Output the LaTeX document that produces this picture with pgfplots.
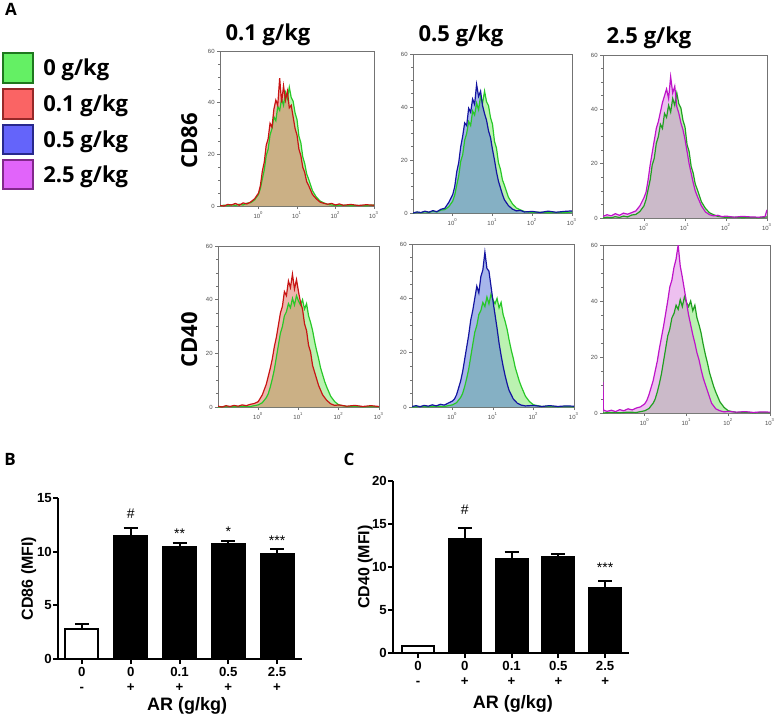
\documentclass[border=0pt]{standalone}
\usepackage{fontspec}
\setmainfont{Liberation Sans}
\newfontfamily\osans{Open Sans}
\usepackage{pgfplots}
\pgfplotsset{compat=1.18}
\usepackage{pgfplotstable}

\definecolor{gline}{RGB}{40,200,40}
\definecolor{gfill}{RGB}{120,230,100}
\definecolor{rline}{RGB}{200,20,20}
\definecolor{rfill}{RGB}{220,110,90}
\definecolor{bline}{RGB}{20,20,160}
\definecolor{bfill}{RGB}{80,110,215}
\definecolor{mline}{RGB}{190,20,200}
\definecolor{mfill}{RGB}{220,130,225}

% CD86 histograms (x = log10 intensity, y = count)
\pgfplotstableread{
x y
-1.00 0.0
-0.90 0.3
-0.80 0.1
-0.70 0.5
-0.60 0.2
-0.50 0.7
-0.40 0.4
-0.30 1.1
-0.20 1.3
-0.10 2.4
0.00 4.5
0.05 6.8
0.10 10.5
0.15 14.0
0.20 19.5
0.25 22.0
0.30 27.5
0.35 30.0
0.40 34.5
0.45 33.0
0.50 38.5
0.55 37.0
0.60 41.5
0.65 39.0
0.70 44.0
0.75 41.5
0.80 46.0
0.85 42.0
0.90 40.5
0.95 36.0
1.00 33.5
1.05 27.0
1.10 24.5
1.15 19.0
1.20 16.5
1.25 12.5
1.30 10.5
1.40 6.0
1.50 3.5
1.60 1.9
1.70 1.2
1.80 0.6
1.90 0.4
2.00 0.2
2.20 0.3
2.40 0.1
2.60 0.2
2.80 0.1
3.00 0.4
}\gA
\pgfplotstableread{
x y
-1.00 0.2
-0.90 0.0
-0.80 0.6
-0.70 0.4
-0.60 1.0
-0.50 0.3
-0.40 1.2
-0.30 0.8
-0.20 1.6
-0.10 2.8
0.00 5.0
0.05 8.0
0.10 13.5
0.15 17.0
0.20 23.5
0.25 26.0
0.30 32.0
0.35 30.5
0.40 37.5
0.45 41.0
0.50 39.0
0.55 49.5
0.60 40.0
0.65 46.5
0.70 41.0
0.75 44.5
0.80 38.0
0.85 39.0
0.90 34.5
0.95 30.0
1.00 27.5
1.05 22.0
1.10 19.5
1.15 15.0
1.20 13.0
1.25 9.5
1.30 8.0
1.40 4.5
1.50 2.8
1.60 1.5
1.70 1.0
1.80 0.7
1.90 1.0
2.00 0.4
2.10 0.8
2.20 0.3
2.40 0.6
2.60 0.2
2.80 0.5
3.00 0.3
}\rA
\pgfplotstableread{
x y
-1.00 0.0
-0.90 0.4
-0.80 0.2
-0.70 0.7
-0.60 0.3
-0.50 0.9
-0.40 0.5
-0.30 1.4
-0.20 1.8
-0.10 4.0
0.00 7.0
0.05 10.0
0.10 15.5
0.15 19.0
0.20 25.0
0.25 29.0
0.30 34.0
0.35 33.0
0.40 39.5
0.45 38.0
0.50 43.0
0.55 41.0
0.60 48.5
0.65 44.0
0.70 46.0
0.75 40.5
0.80 37.5
0.85 35.0
0.90 31.0
0.95 28.5
1.00 24.0
1.05 20.0
1.10 15.5
1.15 12.0
1.20 9.5
1.25 7.0
1.30 5.0
1.40 2.8
1.50 1.5
1.60 0.8
1.70 1.0
1.80 0.4
2.00 0.6
2.20 0.2
2.40 0.7
2.60 0.3
2.80 0.6
3.00 0.8
}\bA
\pgfplotstableread{
x y
-1.00 0.6
-0.90 1.2
-0.80 0.8
-0.70 1.6
-0.60 1.0
-0.50 1.8
-0.40 1.4
-0.30 2.0
-0.20 2.6
-0.10 4.5
0.00 7.5
0.05 9.5
0.10 14.0
0.15 19.5
0.20 24.0
0.25 28.5
0.30 33.0
0.35 35.5
0.40 39.0
0.45 42.5
0.50 45.0
0.55 47.5
0.60 44.0
0.65 52.0
0.70 46.0
0.75 48.5
0.80 41.0
0.85 38.5
0.90 35.0
0.95 32.5
1.00 29.0
1.05 24.5
1.10 20.0
1.15 16.5
1.20 13.0
1.25 10.0
1.30 8.0
1.40 4.5
1.50 2.2
1.60 1.2
1.70 0.8
1.80 1.0
1.90 0.5
2.00 0.7
2.20 0.3
2.40 0.6
2.60 0.4
2.80 0.3
2.95 0.5
3.00 3.0
}\mA

% CD40 histograms
\pgfplotstableread{
x y
-1.00 0.0
-0.80 0.2
-0.60 0.1
-0.40 0.3
-0.20 0.2
-0.10 0.5
0.00 0.8
0.10 1.6
0.20 3.5
0.25 5.0
0.30 7.5
0.35 10.5
0.40 14.0
0.45 18.5
0.50 23.0
0.55 27.5
0.60 30.0
0.65 34.0
0.70 35.5
0.75 38.5
0.80 37.0
0.85 40.5
0.90 38.0
0.95 41.5
1.00 39.5
1.05 38.0
1.10 40.0
1.15 36.5
1.20 38.5
1.25 34.0
1.30 31.5
1.35 28.5
1.40 24.5
1.45 21.0
1.50 18.0
1.55 14.5
1.60 12.0
1.65 9.5
1.70 7.5
1.80 4.0
1.90 2.0
2.00 0.8
2.10 0.5
2.20 0.2
2.40 0.3
2.60 0.1
2.80 0.2
3.00 0.1
}\gB
\pgfplotstableread{
x y
-1.00 0.3
-0.90 0.0
-0.80 0.5
-0.70 0.2
-0.60 0.6
-0.50 0.3
-0.40 0.8
-0.30 0.5
-0.20 1.0
-0.10 1.3
0.00 2.0
0.10 4.5
0.15 6.5
0.20 8.5
0.25 11.5
0.30 14.5
0.35 18.0
0.40 22.5
0.45 26.0
0.50 30.5
0.55 35.0
0.60 37.5
0.65 43.0
0.70 41.5
0.75 47.0
0.80 44.5
0.85 49.5
0.90 44.0
0.95 47.5
1.00 43.0
1.05 39.0
1.10 36.5
1.15 31.0
1.20 28.5
1.25 23.0
1.30 20.5
1.35 15.5
1.40 13.0
1.50 8.0
1.60 4.5
1.70 2.5
1.80 1.2
1.90 0.6
2.00 0.8
2.20 0.3
2.40 0.6
2.60 0.2
2.80 0.5
3.00 0.2
}\rB
\pgfplotstableread{
x y
-1.00 0.2
-0.90 0.5
-0.80 0.1
-0.70 0.6
-0.60 0.3
-0.50 0.8
-0.40 0.4
-0.30 1.0
-0.20 0.7
-0.10 1.5
0.00 2.2
0.05 3.0
0.10 4.5
0.15 7.0
0.20 9.5
0.25 13.0
0.30 17.5
0.35 22.0
0.40 26.5
0.45 32.0
0.50 35.5
0.55 40.0
0.60 44.5
0.65 42.0
0.70 48.0
0.75 50.5
0.80 57.0
0.85 51.0
0.90 50.0
0.95 44.5
1.00 39.0
1.05 34.0
1.10 29.0
1.15 23.5
1.20 19.0
1.25 15.0
1.30 11.5
1.35 8.5
1.40 6.0
1.50 3.0
1.60 1.4
1.70 0.7
1.80 0.4
2.00 0.6
2.20 0.2
2.40 0.5
2.60 0.2
2.80 0.4
3.00 0.3
}\bB
\pgfplotstableread{
x y
-1.00 11.0
-0.99 1.0
-0.90 0.6
-0.80 1.0
-0.70 0.5
-0.60 1.2
-0.50 0.8
-0.40 1.5
-0.30 1.1
-0.20 1.8
-0.10 2.2
0.00 3.3
0.05 4.5
0.10 6.5
0.15 9.0
0.20 11.5
0.25 15.0
0.30 18.5
0.35 23.0
0.40 27.0
0.45 31.0
0.50 35.5
0.55 40.0
0.60 45.0
0.65 47.5
0.70 52.0
0.75 55.0
0.80 60.0
0.85 52.5
0.90 48.5
0.95 44.0
1.00 39.5
1.05 35.0
1.10 31.5
1.15 28.0
1.20 25.0
1.25 21.5
1.30 19.0
1.35 15.5
1.40 12.5
1.50 8.0
1.60 3.5
1.70 1.5
1.80 0.8
1.90 0.4
2.00 0.6
2.20 0.3
2.40 0.5
2.60 0.2
2.80 0.4
3.00 0.3
}\mB

\pgfplotsset{
  hist/.style={
    scale only axis, anchor=north west,
    xmin=-1, xmax=3, ymin=0, ymax=60,
    axis line style={black!55, line width=0.4pt},
    xtick={0,1,2,3},
    xticklabels={10\textsuperscript{0},10\textsuperscript{1},10\textsuperscript{2},10\textsuperscript{3}},
    ytick={0,20,40,60}, minor y tick num=3,
    xtick pos=left, ytick pos=left,
    tick align=outside,
    major tick length=1.5pt, minor tick length=0.8pt,
    tick style={black!55, line width=0.3pt},
    ticklabel style={font=\fontsize{3}{3}\selectfont, text=black!70, inner sep=1pt},
    /pgf/number format/assume math mode=true,
  },
  gfillst/.style={fill=gfill, fill opacity=0.5, draw=none},
  bars/.style={
    scale only axis, anchor=south west,
    axis x line=bottom, axis y line=left,
    axis line style={-, line width=1pt},
    xmin=-0.5, xmax=4.5, ymin=0,
    xtick={0,1,2,3,4},
    xticklabels={{0\\-},{0\\+},{0.1\\+},{0.5\\+},{2.5\\+}},
    tick align=outside, major tick length=2.5pt,
    tick style={black, line width=1pt},
    ticklabel style={font=\bfseries\fontsize{6.6}{7.6}\selectfont},
    xticklabel style={align=center, inner sep=1.2pt},
    yticklabel style={inner sep=0.4pt},
    /pgf/number format/assume math mode=true,
    ylabel style={font=\bfseries\fontsize{8}{9}\selectfont, anchor=center},
    xlabel style={font=\bfseries\fontsize{9}{10}\selectfont, anchor=center},
    xlabel={AR (g/kg)},
  },
  barst/.style={ybar, bar shift=0pt, bar width=#1, draw=black, line width=1pt,
    error bars/y dir=plus, error bars/y explicit,
    error bars/error mark=|,
    error bars/error bar style={line width=1pt, black},
    error bars/error mark options={line width=1pt, mark size=3.5pt, black}},
}

\begin{document}
\begin{tikzpicture}
\useasboundingbox (0,0) rectangle (388.5pt,-357pt);

% ---------- panel A ----------
\begin{axis}[hist, at={(110pt,-25.5pt)}, width=77pt, height=77.5pt]
\addplot[gfillst] table {\gA} \closedcycle;
\addplot[fill=rfill, fill opacity=0.5, draw=none] table {\rA} \closedcycle;
\addplot[gline, line width=0.6pt] table {\gA};
\addplot[rline, line width=0.6pt] table {\rA};
\end{axis}
\begin{axis}[hist, at={(206.5pt,-27pt)}, width=79.5pt, height=79.5pt]
\addplot[gfillst] table {\gA} \closedcycle;
\addplot[fill=bfill, fill opacity=0.5, draw=none] table {\bA} \closedcycle;
\addplot[gline, line width=0.6pt] table {\gA};
\addplot[bline, line width=0.6pt] table {\bA};
\end{axis}
\begin{axis}[hist, at={(301.5pt,-27.5pt)}, width=82pt, height=81.5pt]
\addplot[gfillst] table {\gA} \closedcycle;
\addplot[fill=mfill, fill opacity=0.5, draw=none] table {\mA} \closedcycle;
\addplot[gline!80!black, line width=0.6pt] table {\gA};
\addplot[mline, line width=0.6pt] table {\mA};
\end{axis}

\begin{axis}[hist, at={(109pt,-123pt)}, width=80.5pt, height=80.5pt]
\addplot[gfillst] table {\gB} \closedcycle;
\addplot[fill=rfill, fill opacity=0.5, draw=none] table {\rB} \closedcycle;
\addplot[gline, line width=0.6pt] table {\gB};
\addplot[rline, line width=0.6pt] table {\rB};
\end{axis}
\begin{axis}[hist, at={(206pt,-122pt)}, width=81pt, height=81.5pt]
\addplot[gfillst] table {\gB} \closedcycle;
\addplot[fill=bfill, fill opacity=0.5, draw=none] table {\bB} \closedcycle;
\addplot[gline, line width=0.6pt] table {\gB};
\addplot[bline, line width=0.6pt] table {\bB};
\end{axis}
\begin{axis}[hist, at={(301.5pt,-122.5pt)}, width=83.5pt, height=84pt]
\addplot[gfillst] table {\gB} \closedcycle;
\addplot[fill=mfill, fill opacity=0.5, draw=none] table {\mB} \closedcycle;
\addplot[gline!80!black, line width=0.6pt] table {\gB};
\addplot[mline, line width=0.6pt] table {\mB};
\end{axis}

% titles, row labels, legend
\begin{scope}[every node/.style={font=\osans\bfseries\fontsize{11}{13}\selectfont, inner sep=0pt}]
\node[anchor=base] at (134pt,-20pt) {0.1 g/kg};
\node[anchor=base] at (230.5pt,-20.5pt) {0.5 g/kg};
\node[anchor=base] at (324.5pt,-21.5pt) {2.5 g/kg};
\node[anchor=base, rotate=90] at (98.5pt,-70.5pt) {CD86};
\node[anchor=base, rotate=90] at (98.5pt,-170pt) {CD40};
\node[anchor=base west] at (21.5pt,-37.5pt) {0 g/kg};
\node[anchor=base west] at (21.5pt,-55.8pt) {0.1 g/kg};
\node[anchor=base west] at (21.5pt,-73.7pt) {0.5 g/kg};
\node[anchor=base west] at (21.5pt,-91.2pt) {2.5 g/kg};
\node[anchor=base, font=\osans\bfseries\fontsize{8.5}{10}\selectfont] at (5.5pt,-7.5pt) {A};
\node[anchor=base, font=\osans\bfseries\fontsize{8.5}{10}\selectfont] at (5pt,-232.5pt) {B};
\node[anchor=base, font=\osans\bfseries\fontsize{8.5}{10}\selectfont] at (174.5pt,-232.5pt) {C};
\end{scope}
\draw[line width=0.8pt, draw={rgb,255:red,30;green,120;blue,30}, fill={rgb,255:red,100;green,240;blue,100}] (1.5pt,-26.5pt) rectangle (16.5pt,-41.5pt);
\draw[line width=0.8pt, draw={rgb,255:red,150;green,40;blue,40}, fill={rgb,255:red,250;green,100;blue,100}] (1.5pt,-44.5pt) rectangle (16.5pt,-59.5pt);
\draw[line width=0.8pt, draw={rgb,255:red,40;green,40;blue,140}, fill={rgb,255:red,100;green,100;blue,250}] (1.5pt,-62.5pt) rectangle (16.5pt,-77pt);
\draw[line width=0.8pt, draw={rgb,255:red,130;green,40;blue,140}, fill={rgb,255:red,225;green,100;blue,250}] (1.5pt,-80pt) rectangle (16.5pt,-94.5pt);

% ---------- panel B ----------
\begin{axis}[bars, at={(29pt,-329.5pt)}, width=122pt, height=80.5pt,
  xmin=-0.49, xmax=4.51, ymax=15, ytick={0,5,10,15},
  ylabel={CD86 (MFI)},
  ylabel style={at={(axis description cs:-0.12,0.5)}},
  xlabel style={at={(axis description cs:0.529,0)}, yshift=-23.5pt}]
\addplot[barst=16.5pt, fill=white] coordinates {(0,2.82) +- (0,0.40)};
\addplot[barst=16.5pt, fill=black] coordinates {(1,11.44) +- (0,0.80) (2,10.47) +- (0,0.38) (3,10.69) +- (0,0.31) (4,9.76) +- (0,0.53)};
\node[anchor=base, font=\fontsize{7}{8}\selectfont] at (axis cs:1,13.1) {\#};
\node[anchor=base, font=\fontsize{7}{8}\selectfont] at (axis cs:2,11.27) {**};
\node[anchor=base, font=\fontsize{7}{8}\selectfont] at (axis cs:3,11.37) {*};
\node[anchor=base, font=\fontsize{7}{8}\selectfont] at (axis cs:4,10.6) {***};
\end{axis}

% ---------- panel C ----------
\begin{axis}[bars, at={(196.5pt,-326.5pt)}, width=118pt, height=86pt,
  xmin=-0.535, xmax=4.51, ymax=20, ytick={0,5,10,15,20},
  ylabel={CD40 (MFI)},
  ylabel style={at={(axis description cs:-0.118,0.5)}},
  xlabel style={at={(axis description cs:0.508,0)}, yshift=-25.5pt}]
\addplot[barst=16pt, fill=white] coordinates {(0,0.78) +- (0,0.05)};
\addplot[barst=16pt, fill=black] coordinates {(1,13.24) +- (0,1.32) (2,10.95) +- (0,0.85) (3,11.18) +- (0,0.32) (4,7.57) +- (0,0.82)};
\node[anchor=base, font=\fontsize{7}{8}\selectfont] at (axis cs:1,16.05) {\#};
\node[anchor=base, font=\fontsize{7}{8}\selectfont] at (axis cs:4,9.42) {***};
\end{axis}
\end{tikzpicture}
\end{document}
